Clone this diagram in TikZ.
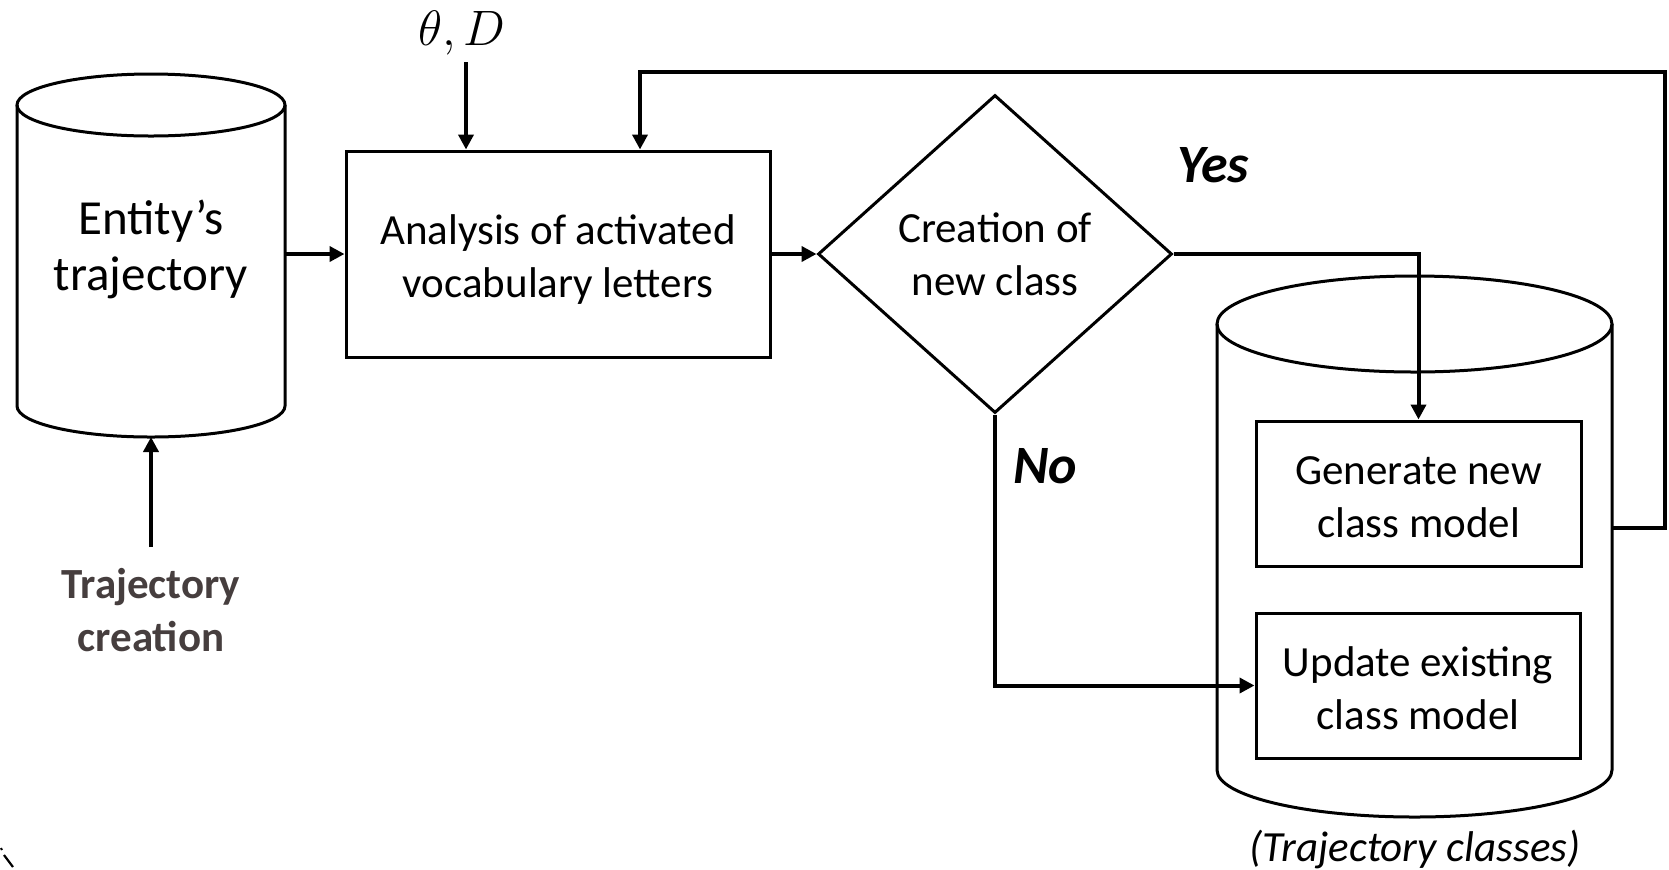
\documentclass[tikz,border=0pt]{standalone}
\usepackage{fontspec}
\setmainfont{Carlito}
\usetikzlibrary{arrows.meta,shapes.geometric}
\definecolor{tcol}{RGB}{70,62,62}
\newcommand{\dnstrut}{\rule{0pt}{20pt}}
\newcommand{\dnstrutb}{\rule{0pt}{18pt}}
\begin{document}
\begin{tikzpicture}[x=0.5pt,y=-0.5pt,
  shp/.style={draw=black, line width=1.5pt},
  con/.style={draw=black, line width=2pt},
  arr/.style={con, -{Triangle[length=7.5pt,width=7.5pt]}},
  lbl/.style={font=\fontsize{21.5}{26.5}\selectfont, align=center, inner sep=0pt},
  boxn/.style={shp, rectangle, lbl},
  yn/.style={font=\fontsize{27}{30}\selectfont\bfseries\itshape, inner sep=0pt}]
\useasboundingbox (0,0) rectangle (1669,869);

% left cylinder
\draw[shp] (17,105) -- (17,406) .. controls (17,423.1) and (77,437) .. (151,437) .. controls (225,437) and (285,423.1) .. (285,406) -- (285,105);
\draw[shp] (151,105) ellipse [x radius=134, y radius=31];
\node[lbl, font=\fontsize{24.5}{28}\selectfont] (entT) at (151,249) {Entity’s\\trajectory};
\coordinate (entR) at (285,254);
\coordinate (entB) at (151,437);

% right cylinder
\draw[shp] (1217,324) -- (1217,770) .. controls (1217,796) and (1305.4,817) .. (1414.5,817) .. controls (1523.6,817) and (1612,796) .. (1612,770) -- (1612,324);
\draw[shp] (1414.5,324) ellipse [x radius=197.5, y radius=48];
\coordinate (clsR) at (1612,528);

% nodes
\node[boxn, minimum width=212pt, minimum height=103pt] (ana) at (558,254) {\dnstrut Analysis of activated\\vocabulary letters};
\node[shp, diamond, lbl, minimum width=177pt, minimum height=159pt] (dec) at (995,254) {Creation of\\new class};
\node[boxn, minimum width=162.5pt, minimum height=72.5pt] (gen) at (1418.5,493.5) {\dnstrutb Generate new\\class model};
\node[boxn, minimum width=162pt, minimum height=72.5pt] (upd) at (1418,685.5) {\dnstrutb Update existing\\class model};

\node[lbl, font=\fontsize{21.5}{26.5}\selectfont\bfseries, text=tcol] (tc) at (151,610) {Trajectory\\creation};
\coordinate (tcTop) at (151,547);
\node[inner sep=0pt, font=\fontsize{24}{28}\selectfont] (par) at (462,33) {$\theta, D$};
\coordinate (parB) at (466,62);

\node[yn] (yes) at (1213,165) {Yes};
\node[yn] (no) at (1045,466) {No};
\node[lbl, font=\fontsize{21.5}{26.5}\selectfont\itshape] (cls) at (1415,849) {(Trajectory classes)};

% connectors
\draw[arr] (tcTop) -- (entB);
\draw[arr] (entR) -- (ana.west);
\draw[arr] (parB) -- (parB |- ana.north);
\draw[arr] (ana.east) -- (dec.west);
\draw[arr] (dec.east) -| (gen.north);
\draw[arr] (dec.south) |- (upd.west);
\coordinate (fbR) at (1665,72);
\coordinate (fbL) at (640,72);
\draw[arr] (clsR) -| (fbR) -- (fbL) -- (fbL |- ana.north);

% stray mark
\draw[line width=1pt] (1,848) -- (2,850);
\draw[line width=1.1pt] (4,855) -- (13,867);
\end{tikzpicture}
\end{document}
